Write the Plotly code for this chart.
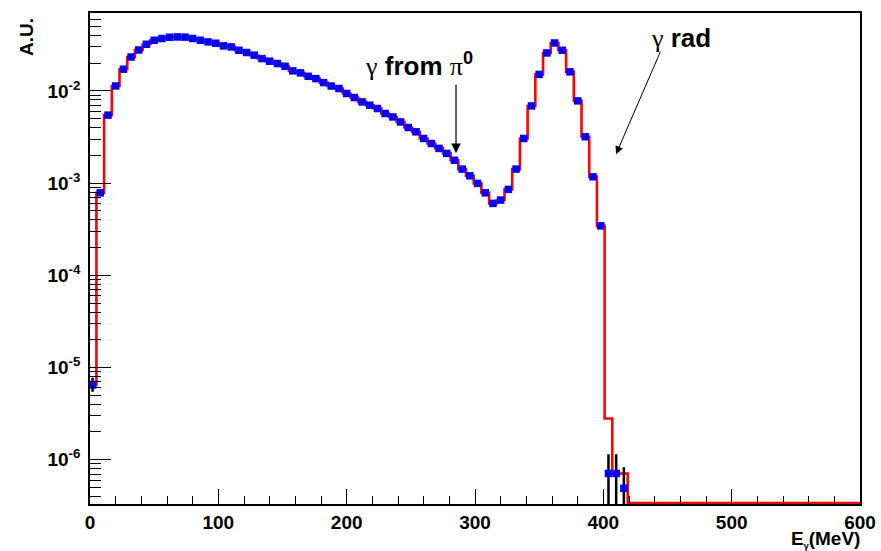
import plotly.graph_objects as go

# ---- data ----
bin_width = 6.0
first_edge = -1.0
data_values = [
    6.46e-6, 7.85e-4, 5.46e-3, 1.132e-2, 1.718e-2, 2.333e-2, 2.780e-2, 3.206e-2, 3.540e-2, 3.698e-2,
    3.82e-2, 3.85e-2, 3.83e-2, 3.70e-2, 3.54e-2, 3.40e-2, 3.29e-2, 3.08e-2, 3.00e-2, 2.76e-2,
    2.61e-2, 2.44e-2, 2.24e-2, 2.10e-2, 1.98e-2, 1.85e-2, 1.65e-2, 1.57e-2, 1.44e-2, 1.36e-2,
    1.23e-2, 1.13e-2, 1.06e-2, 9.38e-3, 8.47e-3, 7.60e-3, 7.00e-3, 6.44e-3, 5.69e-3, 5.22e-3,
    4.61e-3, 4.01e-3, 3.60e-3, 3.05e-3, 2.69e-3, 2.38e-3, 2.10e-3, 1.77e-3, 1.42e-3, 1.20e-3,
    9.93e-4, 7.85e-4, 6.03e-4, 6.55e-4, 8.55e-4, 1.42e-3, 3.05e-3, 6.87e-3, 1.51e-2, 2.58e-2,
    3.31e-2, 2.76e-2, 1.61e-2, 7.80e-3, 3.18e-3, 1.17e-3, 3.44e-4, 7.1e-7, 7.1e-7, 4.9e-7,
]
mc_values = data_values[:67] + [2.8e-6, 7.1e-7, 7.1e-7] + [0.0] * 31
err_plus = [1.3e-6] + [0.0] * 66 + [4.4e-7, 4.4e-7, 3.4e-7]
err_minus = [1.0e-6] + [0.0] * 66 + [7.09e-7, 7.09e-7, 4.89e-7]

y_tick_vals = [1e-6, 1e-5, 1e-4, 1e-3, 1e-2]
y_tick_text = ["10<sup>-6</sup>", "10<sup>-5</sup>", "10<sup>-4</sup>", "10<sup>-3</sup>", "10<sup>-2</sup>"]
x_tick_vals = [0, 100, 200, 300, 400, 500, 600]

Y_RANGE = [-6.48, -1.155]
X_RANGE = [0, 600]

# ---- derived ----
floor_val = 10 ** (Y_RANGE[0] + 0.01)
data_x = [first_edge + bin_width * (i + 0.5) for i in range(len(data_values))]
mc_edges = [first_edge + bin_width * i for i in range(len(mc_values) + 1)]
mc_y = [v if v > 0 else floor_val for v in mc_values]
mc_y = mc_y + [mc_y[-1]]

minor_vals = [m * 10 ** e for e in range(-7, 0) for m in range(2, 10)]

fig = go.Figure()
fig.add_trace(go.Scatter(
    x=mc_edges, y=mc_y, mode="lines", line=dict(color="#ff0000", width=2.6, shape="hv"),
    showlegend=False, hoverinfo="skip"))
fig.add_trace(go.Scatter(
    x=data_x, y=data_values, mode="markers",
    marker=dict(symbol="square", size=7.5, color="#0000ff", line=dict(width=0)),
    error_y=dict(type="data", array=err_plus, arrayminus=err_minus, symmetric=False,
                 color="black", thickness=2.5, width=0),
    showlegend=False))

bold = dict(family="Liberation Sans, Arial, sans-serif", size=19, color="black", weight="bold")

fig.update_layout(
    width=881, height=551,
    margin=dict(l=90, r=21, t=13, b=47),
    paper_bgcolor="white", plot_bgcolor="white",
    xaxis=dict(range=X_RANGE, tickvals=x_tick_vals, ticks="inside", ticklen=15, tickwidth=1.3,
               tickcolor="black", showline=True, linecolor="black", linewidth=1.6, mirror=True,
               showgrid=False, zeroline=False, tickfont=bold, automargin=False,
               minor=dict(dtick=20, ticks="inside", ticklen=8, tickwidth=1.3, tickcolor="black")),
    yaxis=dict(type="log", range=Y_RANGE, tickvals=y_tick_vals, ticktext=y_tick_text,
               ticks="inside", ticklen=21, tickwidth=1.3, tickcolor="black",
               showline=True, linecolor="black", linewidth=1.6, mirror=True, automargin=False,
               showgrid=False, zeroline=False, tickfont=bold, ticklabelstandoff=4,
               minor=dict(tickvals=minor_vals, ticks="inside", ticklen=11, tickwidth=1.3,
                          tickcolor="black")),
)

serif = "Liberation Serif"
fig.add_annotation(xref="paper", yref="paper", x=0, y=1, xshift=-64, yshift=-3,
                   xanchor="center", yanchor="top", textangle=-90, showarrow=False,
                   text="<b>A.U.</b>", font=dict(family="Liberation Sans", size=19, color="black"))
fig.add_annotation(xref="paper", yref="paper", x=1, y=0, xanchor="right", yanchor="top",
                   yshift=-22, xshift=2, showarrow=False,
                   text='<b>E<sub><span style="font-size:9px">γ</span></sub>(MeV)</b>',
                   font=dict(family="Liberation Sans", size=19, color="black"))

fig.add_annotation(x=256.0, y=-1.711, xref="x", yref="y", showarrow=False,
                   text=f'<span style="font-family:{serif}">γ</span> <b>from</b> '
                        f'<span style="font-family:{serif}">π</span><sup><b>0</b></sup>',
                   font=dict(family="Liberation Sans", size=26, color="black"))
fig.add_annotation(x=285.2, y=-2.675, xref="x", yref="y", ax=0, ay=-70, text="",
                   showarrow=True, arrowhead=2, arrowsize=1.6, arrowwidth=1.2, arrowcolor="black")
fig.add_annotation(x=460.5, y=-1.429, xref="x", yref="y", showarrow=False,
                   text=f'<span style="font-family:{serif}">γ</span> <b>rad</b>',
                   font=dict(family="Liberation Sans", size=26, color="black"))
fig.add_annotation(x=409.9, y=-2.686, xref="x", yref="y", ax=45, ay=-104, text="",
                   showarrow=True, arrowhead=2, arrowsize=1.6, arrowwidth=1.0, arrowcolor="black")

fig.write_html("out.html")
